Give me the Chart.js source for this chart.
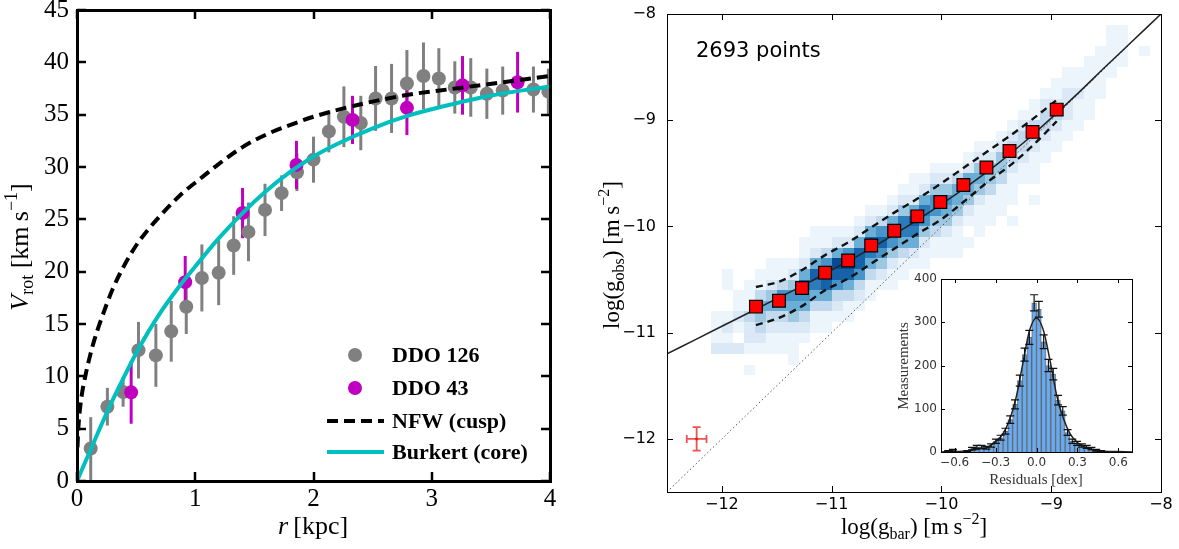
<!DOCTYPE html>
<html><head><meta charset="utf-8">
<script src="https://cdn.jsdelivr.net/npm/chart.js@4.4.0/dist/chart.umd.min.js"></script>
<style>
html,body{margin:0;padding:0;background:#fff;}
#wrap{position:relative;width:1179px;height:549px;overflow:hidden;background:#fff;}
canvas{position:absolute;}
</style></head><body>
<div id="wrap">
<canvas id="left" width="590" height="549" style="left:0;top:0"></canvas>
<canvas id="right" width="589" height="549" style="left:590px;top:0"></canvas>
<canvas id="inset" width="265" height="230" style="left:880px;top:265px"></canvas>
</div>
<script>
// ---------------- LEFT PANEL DATA ----------------
const ddo126R = [0.116,0.257,0.39,0.52,0.667,0.797,0.924,1.056,1.198,1.325,1.45,1.59,1.73,1.86,2.0,2.13,2.257,2.40,2.525,2.66,2.79,2.93,3.06,3.195,3.33,3.466,3.60,3.86,3.986];
const ddo126V = [3.1,7.1,8.5,12.5,12.0,14.3,16.65,19.4,19.9,22.5,23.8,25.9,27.5,29.5,30.7,33.4,34.8,34.2,36.55,36.55,37.98,38.7,38.45,37.6,37.6,37.0,37.3,37.4,37.2];
const ddo126Err = [3.0,1.8,1.4,2.7,3.0,2.9,2.6,3.2,3.1,2.8,2.8,2.5,1.7,1.8,2.2,2.0,2.9,2.6,3.1,3.3,3.2,3.2,2.9,2.5,2.8,2.4,2.3,2.2,2.2];
const ddo43R = [0.458,0.915,1.40,1.856,2.33,2.79,3.26,3.726];
const ddo43V = [8.47,19.0,25.6,30.2,34.5,35.65,37.8,38.1];
const ddo43Err = [3.0,2.5,2.4,2.3,2.3,2.6,2.8,2.9];
const nfwR = [0.004,0.01,0.02,0.04,0.07,0.1,0.15,0.2,0.3,0.4,0.5,0.6,0.7,0.8,0.9,1.0,1.2,1.4,1.6,1.8,2.0,2.4,2.8,3.2,3.6,4.0];
const nfwV = [3.2,4.8,6.3,8.2,10.0,11.5,13.6,15.3,18.3,20.6,22.5,24.0,25.3,26.5,27.6,28.5,30.3,31.9,33.1,34.0,34.8,36.0,36.9,37.5,38.1,38.7];
const burkR = [0,0.1,0.2,0.3,0.4,0.5,0.6,0.7,0.8,0.9,1.0,1.2,1.4,1.6,1.8,2.0,2.2,2.5,2.8,3.1,3.4,3.7,4.0];
const burkV = [0,2.6,5.2,7.7,10.0,12.2,14.2,16.0,17.6,19.1,20.5,23.2,25.6,27.7,29.5,31.0,32.2,33.7,34.9,35.8,36.6,37.2,37.7];
const leftXTicks = [0,1,2,3,4];
const leftYTicks = [0,5,10,15,20,25,30,35,40,45];
const legendLabels = ['DDO 126','DDO 43','NFW (cusp)','Burkert (core)'];

// ---------------- RIGHT PANEL DATA ----------------
const binGbar = [-11.69,-11.48,-11.27,-11.06,-10.85,-10.64,-10.43,-10.22,-10.01,-9.80,-9.59,-9.38,-9.17,-8.95];
const binGobs = [-10.755,-10.70,-10.58,-10.435,-10.32,-10.18,-10.04,-9.905,-9.77,-9.61,-9.445,-9.29,-9.11,-8.90];
const bandUpper = [-10.57,-10.52,-10.41,-10.27,-10.15,-10.01,-9.87,-9.74,-9.60,-9.45,-9.30,-9.15,-8.99,-8.81];
const bandLower = [-10.93,-10.86,-10.75,-10.60,-10.49,-10.35,-10.21,-10.07,-9.94,-9.77,-9.59,-9.43,-9.24,-9.01];
const rarX = [-12.5,-12.25,-12.0,-11.75,-11.5,-11.25,-11.0,-10.75,-10.5,-10.25,-10.0,-9.75,-9.5,-9.25,-9.0,-8.75,-8.5,-8.25,-8.0];
const rarY = [-11.20,-11.07,-10.94,-10.81,-10.68,-10.55,-10.41,-10.27,-10.12,-9.96,-9.79,-9.61,-9.42,-9.21,-8.98,-8.74,-8.49,-8.245,-8.0];
const unityX = [-12.5,-8.0];
const unityY = [-12.5,-8.0];
const errCrossX = [-12.23];
const errCrossY = [-12.0];
const errCrossDX = [0.09];
const errCrossDY = [0.11];
const rightTicks = [-12,-11,-10,-9,-8];
const pointsLabel = '2693 points';
// 2D histogram: column left edges, bottom row edge, levels (0-9) bottom->top
const heatX = [-12.1,-12.0,-11.9,-11.8,-11.7,-11.6,-11.5,-11.4,-11.3,-11.2,-11.1,-11.0,-10.9,-10.8,-10.7,-10.6,-10.5,-10.4,-10.3,-10.2,-10.1,-10.0,-9.9,-9.8,-9.7,-9.6,-9.5,-9.4,-9.3,-9.2,-9.1,-9.0,-8.9,-8.8,-8.7,-8.6,-8.5,-8.4,-8.2];
const heatY0 = [-11.2,-11.2,-11.2,-11.4,-11.2,-11.2,-11.2,-11.3,-11.1,-11.0,-11.0,-10.9,-10.9,-10.8,-10.7,-10.6,-10.6,-10.5,-10.4,-10.4,-10.3,-10.3,-10.3,-10.2,-10.1,-10.0,-9.9,-10.0,-9.6,-9.8,-9.4,-9.3,-9.2,-9.1,-9.0,-8.8,-8.6,-8.5,-8.4];
const heatLevels = [
 [2,1,1,1],
 [2,1,2,1,0,0,1,1],
 [2,0,1,2,1,1],
 [1,0,1,2,2,3,1,1,1],
 [1,2,3,4,5,3,1,1],
 [1,1,2,3,5,4,2,1,1],
 [1,1,2,3,5,6,3,1,1],
 [1,1,1,2,4,5,6,4,2,1],
 [1,2,3,5,6,8,5,2,1,1],
 [1,1,3,5,7,8,5,2,1,1],
 [1,1,3,5,8,9,6,3,1,1],
 [1,2,3,6,8,9,5,2,1],
 [1,1,3,5,8,9,6,2,1],
 [1,2,3,6,8,8,5,2,1],
 [1,1,3,5,7,8,5,2,1],
 [1,2,4,6,8,6,3,1],
 [1,1,2,4,6,8,5,2,1],
 [1,1,3,5,7,7,4,2,1],
 [1,2,5,7,8,5,2,1,1],
 [1,1,2,4,6,7,5,2,1],
 [1,1,3,4,6,6,4,2,1],
 [1,1,2,4,5,6,4,2,1],
 [1,1,1,2,4,5,5,3,1],
 [1,0,1,2,4,5,5,2,1],
 [1,1,1,2,4,5,4,2,1],
 [1,1,1,3,4,4,2,1],
 [1,1,1,3,4,4,2,1],
 [1,0,1,1,1,2,3,3,2,1],
 [1,1,2,3,3,2,1],
 [1,0,1,1,1,2,3,3,1,1],
 [1,1,2,3,3,2,1],
 [1,1,2,3,2,1,1],
 [1,1,2,2,2,1,1],
 [1,1,1,2,1,1],
 [1,1,1,1,1,1],
 [1,1,1,1,1],
 [1,1,1,1,1],
 [1,1,1,1],
 [1]
];

// ---------------- INSET DATA ----------------
const histCenters = [-0.6825,-0.6475,-0.6125,-0.5775,-0.5425,-0.5075,-0.4725,-0.4375,-0.4025,-0.3675,-0.3325,-0.2975,-0.2625,-0.2275,-0.1925,-0.1575,-0.1225,-0.0875,-0.0525,-0.0175,0.0175,0.0525,0.0875,0.1225,0.1575,0.1925,0.2275,0.2625,0.2975,0.3325,0.3675,0.4025,0.4375,0.4725,0.5075,0.5425,0.5775,0.6125,0.6475,0.6825];
const histCounts = [0,2,4,0,0,2,8,12,12,10,15,25,33,48,75,110,165,225,265,345,330,255,200,180,120,95,45,25,20,15,12,8,4,2,0,0,0,0,0,0];
const histErr = [0,1.4,2,0,0,1.4,2.8,3.5,3.5,3.2,3.9,5,5.7,6.9,8.7,10.5,12.8,15,16.3,18.6,18.2,16,14.1,13.4,11,9.7,6.7,5,4.5,3.9,3.5,2.8,2,1.4,0,0,0,0,0,0];
const fitX = [-0.7,-0.6,-0.5,-0.45,-0.4,-0.35,-0.3,-0.25,-0.2,-0.15,-0.1,-0.05,0,0.05,0.1,0.15,0.2,0.25,0.3,0.35,0.4,0.45,0.5,0.6,0.7];
const fitY = [0,1,3,5,8,12,25,40,72,125,205,282,310,282,210,128,75,40,22,12,6,3,2,1,0];
const insetXTicks = [-0.6,-0.3,0,0.3,0.6];
const insetXLabels = ['\u22120.6','\u22120.3','0.0','0.3','0.6'];
const insetYTicks = [0,100,200,300,400];

// ---------------- HELPERS ----------------
const toXY = (X,Y) => X.map((v,i)=>({x:v,y:Y[i]}));
const SERIF = '"Liberation Serif", "Times New Roman", serif';
const SANS = '"DejaVu Sans", sans-serif';
const BLUES = [[247,251,255],[222,235,247],[198,219,239],[158,202,225],[107,174,214],[66,146,198],[33,113,181],[8,81,156],[8,48,107]];
const LEVEL_T = [0,0.05,0.14,0.26,0.38,0.5,0.61,0.71,0.81,0.9];
function blues(t){
  const s=Math.max(0,Math.min(1,t))*8; const i=Math.min(7,Math.floor(s)); const f=s-i;
  const a=BLUES[i], b=BLUES[i+1];
  return 'rgb('+[0,1,2].map(k=>Math.round(a[k]+(b[k]-a[k])*f)).join(',')+')';
}
function richText(ctx, parts, x, y, angle, color){
  ctx.save(); ctx.translate(x,y); if(angle) ctx.rotate(angle);
  let total=0;
  parts.forEach(p=>{ctx.font=p.font; p.w=ctx.measureText(p.t).width; total+=p.w;});
  let cx=-total/2; ctx.textBaseline='alphabetic'; ctx.textAlign='left'; ctx.fillStyle=color||'#000';
  parts.forEach(p=>{ctx.font=p.font; ctx.fillText(p.t,cx,p.dy||0); cx+=p.w;});
  ctx.restore();
}
function fixAxis(size, horizontal){
  return function(s){ if(horizontal) s.height=size; else s.width=size; s.paddingTop=0; s.paddingBottom=0; s.paddingLeft=0; s.paddingRight=0; };
}
function setTicks(arr){ return function(s){ s.ticks = arr.map(v=>({value:v})); }; }
function framePlugin(id, cfg){
  return { id, afterDatasetsDraw(chart){
    const {ctx, chartArea:a, scales:{x,y}} = chart;
    ctx.save(); ctx.strokeStyle=cfg.color; ctx.lineWidth=cfg.tickWidth; ctx.lineCap='butt';
    const off = cfg.tickWidth%2===1?0.5:0;
    cfg.xTicks.forEach(v=>{ const p=Math.round(x.getPixelForValue(v))+off;
      ctx.beginPath(); ctx.moveTo(p,a.bottom); ctx.lineTo(p,a.bottom-cfg.len); ctx.moveTo(p,a.top); ctx.lineTo(p,a.top+cfg.len); ctx.stroke(); });
    cfg.yTicks.forEach(v=>{ const p=Math.round(y.getPixelForValue(v))+off;
      ctx.beginPath(); ctx.moveTo(a.left,p); ctx.lineTo(a.left+cfg.len,p); ctx.moveTo(a.right,p); ctx.lineTo(a.right-cfg.len,p); ctx.stroke(); });
    ctx.lineWidth=cfg.frameWidth;
    const fo = cfg.frameWidth%2===1?0.5:0;
    ctx.strokeRect(Math.round(a.left)+fo, Math.round(a.top)+fo, Math.round(a.width), Math.round(a.height));
    ctx.restore();
  }};
}
const common = { responsive:false, maintainAspectRatio:false, animation:false, events:[], plugins:{legend:{display:false}, tooltip:{enabled:false}} };

// ---------------- LEFT CHART ----------------
const leftErr = { id:'leftErr', beforeDatasetsDraw(chart){
  const {ctx, chartArea:a, scales:{x,y}} = chart;
  ctx.save(); ctx.beginPath(); ctx.rect(a.left,a.top,a.width,a.height); ctx.clip();
  ctx.lineWidth=3;
  const draw=(R,V,E,col)=>{ ctx.strokeStyle=col; R.forEach((r,i)=>{ const px=x.getPixelForValue(r);
    ctx.beginPath(); ctx.moveTo(px,y.getPixelForValue(V[i]-E[i])); ctx.lineTo(px,y.getPixelForValue(V[i]+E[i])); ctx.stroke(); }); };
  draw(ddo126R,ddo126V,ddo126Err,'#808080');
  draw(ddo43R,ddo43V,ddo43Err,'#bf00bf');
  ctx.restore();
}};
const leftDeco = { id:'leftDeco', afterDraw(chart){
  const ctx=chart.ctx;
  ctx.save();
  const mx=355, tx=392, rows=[355,388,421,452];
  ctx.fillStyle='#808080'; ctx.beginPath(); ctx.arc(mx,rows[0],7,0,Math.PI*2); ctx.fill();
  ctx.fillStyle='#bf00bf'; ctx.beginPath(); ctx.arc(mx,rows[1],7,0,Math.PI*2); ctx.fill();
  ctx.strokeStyle='#000'; ctx.lineWidth=4; ctx.setLineDash([11,6]); ctx.beginPath(); ctx.moveTo(327,rows[2]); ctx.lineTo(384,rows[2]); ctx.stroke();
  ctx.setLineDash([]); ctx.strokeStyle='#00bfbf'; ctx.beginPath(); ctx.moveTo(327,rows[3]); ctx.lineTo(384,rows[3]); ctx.stroke();
  ctx.fillStyle='#000'; ctx.font='bold 22px '+SERIF; ctx.textBaseline='middle'; ctx.textAlign='left';
  legendLabels.forEach((t,i)=>ctx.fillText(t,tx,rows[i]+1));
  ctx.restore();
  richText(ctx,[{t:'V',font:'italic 26px '+SERIF},{t:'rot',font:'18px '+SERIF,dy:5},{t:' [km\u2009s',font:'26px '+SERIF},{t:'\u22121',font:'18px '+SERIF,dy:-11},{t:']',font:'26px '+SERIF}],28,247,-Math.PI/2);
  richText(ctx,[{t:'r',font:'italic 26px '+SERIF},{t:'\u2009[kpc]',font:'26px '+SERIF}],313,534,0);
}};
new Chart(document.getElementById('left'), {
  type:'scatter',
  data:{datasets:[
    {data:toXY(burkR,burkV), showLine:true, borderColor:'#00bfbf', borderWidth:4, pointRadius:0, cubicInterpolationMode:'monotone', clip:0},
    {data:toXY(nfwR,nfwV), showLine:true, borderColor:'#000', borderWidth:4, borderDash:[11,6], pointRadius:0, cubicInterpolationMode:'monotone', clip:0},
    {data:toXY(ddo43R,ddo43V), backgroundColor:'#bf00bf', pointRadius:7, borderWidth:0, clip:0},
    {data:toXY(ddo126R,ddo126V), backgroundColor:'#808080', pointRadius:7, borderWidth:0, clip:0}
  ]},
  options:Object.assign({}, common, {
    layout:{padding:{left:0,top:10,right:40,bottom:0}},
    scales:{
      x:{type:'linear',min:0,max:4,grid:{display:false,drawTicks:false},border:{display:false},
         afterBuildTicks:setTicks(leftXTicks), afterFit:fixAxis(68,true),
         ticks:{autoSkip:false,maxRotation:0,padding:3,color:'#000',font:{family:SERIF,size:25},callback:v=>String(v)}},
      y:{type:'linear',min:0,max:45,grid:{display:false,drawTicks:false},border:{display:false},
         afterBuildTicks:setTicks(leftYTicks), afterFit:fixAxis(77,false),
         ticks:{autoSkip:false,padding:8,color:'#000',font:{family:SERIF,size:25},callback:v=>String(v)}}
    }
  }),
  plugins:[leftErr, framePlugin('leftFrame',{xTicks:leftXTicks,yTicks:leftYTicks,len:9,tickWidth:2.5,frameWidth:3,color:'#000'}), leftDeco]
});

// ---------------- RIGHT CHART ----------------
const HEAT_BIN = 0.1;
const heatPlugin = { id:'heat', beforeDatasetsDraw(chart){
  const {ctx, chartArea:a, scales:{x,y}} = chart;
  ctx.save(); ctx.beginPath(); ctx.rect(a.left,a.top,a.width,a.height); ctx.clip();
  heatX.forEach((x0,i)=>{
    heatLevels[i].forEach((lv,j)=>{
      if(!lv) return;
      const y0 = heatY0[i] + j*HEAT_BIN;
      const px0=Math.round(x.getPixelForValue(x0)), px1=Math.round(x.getPixelForValue(x0+HEAT_BIN));
      const py0=Math.round(y.getPixelForValue(y0)), py1=Math.round(y.getPixelForValue(y0+HEAT_BIN));
      ctx.fillStyle=blues(LEVEL_T[lv]);
      ctx.fillRect(px0,py1,px1-px0,py0-py1);
    });
  });
  ctx.restore();
}};
const rightDeco = { id:'rightDeco', afterDatasetsDraw(chart){
  const {ctx, scales:{x,y}} = chart;
  ctx.save();
  ctx.strokeStyle='rgba(240,50,50,0.85)'; ctx.lineWidth=1.8;
  errCrossX.forEach((cx,i)=>{
    const px=x.getPixelForValue(cx), py=y.getPixelForValue(errCrossY[i]);
    const xl=x.getPixelForValue(cx-errCrossDX[i]), xr=x.getPixelForValue(cx+errCrossDX[i]);
    const yt=y.getPixelForValue(errCrossY[i]+errCrossDY[i]), yb=y.getPixelForValue(errCrossY[i]-errCrossDY[i]);
    ctx.beginPath(); ctx.moveTo(xl,py); ctx.lineTo(xr,py); ctx.moveTo(px,yt); ctx.lineTo(px,yb);
    ctx.moveTo(xl,py-4); ctx.lineTo(xl,py+4); ctx.moveTo(xr,py-4); ctx.lineTo(xr,py+4);
    ctx.moveTo(px-4,yt); ctx.lineTo(px+4,yt); ctx.moveTo(px-4,yb); ctx.lineTo(px+4,yb); ctx.stroke();
    ctx.fillStyle='rgba(200,30,30,0.9)'; ctx.beginPath(); ctx.arc(px,py,1.5,0,Math.PI*2); ctx.fill();
  });
  ctx.restore();
}, afterDraw(chart){
  const ctx=chart.ctx;
  ctx.save(); ctx.fillStyle='#000'; ctx.font='21px '+SANS; ctx.textBaseline='alphabetic'; ctx.textAlign='left';
  ctx.fillText(pointsLabel,106,57); ctx.restore();
  richText(ctx,[{t:'log(g',font:'23px '+SERIF},{t:'obs',font:'16px '+SERIF,dy:5},{t:')',font:'23px '+SERIF},{t:' [m\u2009s',font:'23px '+SERIF},{t:'\u22122',font:'16px '+SERIF,dy:-10},{t:']',font:'23px '+SERIF}],29,255,-Math.PI/2);
  richText(ctx,[{t:'log(g',font:'23px '+SERIF},{t:'bar',font:'16px '+SERIF,dy:5},{t:')',font:'23px '+SERIF},{t:' [m\u2009s',font:'23px '+SERIF},{t:'\u22122',font:'16px '+SERIF,dy:-10},{t:']',font:'23px '+SERIF}],324,534,0);
}};
const minusFmt = v => (v<0?'\u2212':'')+Math.abs(v);
new Chart(document.getElementById('right'), {
  type:'scatter',
  data:{datasets:[
    {data:toXY(binGbar,binGobs), pointStyle:'rect', pointRadius:9, backgroundColor:'#ff0000', borderColor:'#000', borderWidth:1.2},
    {data:toXY(binGbar,bandUpper), showLine:true, borderColor:'#111', borderWidth:2.4, borderDash:[7,5], pointRadius:0, cubicInterpolationMode:'monotone'},
    {data:toXY(binGbar,bandLower), showLine:true, borderColor:'#111', borderWidth:2.4, borderDash:[7,5], pointRadius:0, cubicInterpolationMode:'monotone'},
    {data:toXY(rarX,rarY), showLine:true, borderColor:'#222', borderWidth:1.5, pointRadius:0, cubicInterpolationMode:'monotone', clip:0},
    {data:toXY(unityX,unityY), showLine:true, borderColor:'#555', borderWidth:1, borderDash:[1.5,2.5], pointRadius:0, clip:0}
  ]},
  options:Object.assign({}, common, {
    layout:{padding:{left:0,top:14,right:18,bottom:0}},
    scales:{
      x:{type:'linear',min:-12.5,max:-8,grid:{display:false,drawTicks:false},border:{display:false},
         afterBuildTicks:setTicks(rightTicks), afterFit:fixAxis(57,true),
         ticks:{autoSkip:false,maxRotation:0,padding:3,color:'#000',font:{family:SANS,size:16},callback:minusFmt}},
      y:{type:'linear',min:-12.5,max:-8,grid:{display:false,drawTicks:false},border:{display:false},
         afterBuildTicks:setTicks(rightTicks), afterFit:fixAxis(77,false),
         ticks:{autoSkip:false,padding:11,color:'#000',font:{family:SANS,size:16},callback:minusFmt}}
    }
  }),
  plugins:[heatPlugin, rightDeco, framePlugin('rightFrame',{xTicks:rightTicks,yTicks:rightTicks,len:6,tickWidth:1,frameWidth:1,color:'#000'})]
});

// ---------------- INSET CHART ----------------
const insetBg = { id:'insetBg', beforeDraw(chart){
  const {ctx, chartArea:a} = chart; ctx.save(); ctx.fillStyle='#fff'; ctx.fillRect(a.left,a.top,a.width,a.height); ctx.restore();
}};
const insetErr = { id:'insetErr', afterDatasetsDraw(chart){
  const {ctx, scales:{x,y}} = chart;
  ctx.save(); ctx.strokeStyle='#111'; ctx.lineWidth=1.2;
  histCenters.forEach((c,i)=>{
    if(!histCounts[i]) return;
    const px=x.getPixelForValue(c), yt=y.getPixelForValue(histCounts[i]+histErr[i]), yb=y.getPixelForValue(Math.max(0,histCounts[i]-histErr[i]));
    ctx.beginPath(); ctx.moveTo(px,yt); ctx.lineTo(px,yb);
    ctx.moveTo(px-4,yt); ctx.lineTo(px+4,yt); ctx.moveTo(px-4,yb); ctx.lineTo(px+4,yb); ctx.stroke();
  });
  ctx.restore();
}, afterDraw(chart){
  const ctx=chart.ctx;
  richText(ctx,[{t:'Measurements',font:'15px '+SERIF}],28,101,-Math.PI/2,'#333');
  richText(ctx,[{t:'Residuals [dex]',font:'15px '+SERIF}],156,219,0,'#333');
}};
new Chart(document.getElementById('inset'), {
  type:'bar',
  data:{datasets:[
    {type:'line', data:toXY(fitX,fitY), borderColor:'#222', borderWidth:1.5, pointRadius:0, cubicInterpolationMode:'monotone'},
    {type:'bar', data:toXY(histCenters,histCounts), backgroundColor:'rgba(98,166,238,0.95)', borderColor:'rgba(50,60,70,0.7)', borderWidth:1, barPercentage:1, categoryPercentage:1, grouped:false}
  ]},
  options:Object.assign({}, common, {
    layout:{padding:{left:0,top:14,right:13,bottom:0}},
    scales:{
      x:{type:'linear',min:-0.7,max:0.7,offset:false,grid:{display:false,drawTicks:false},border:{display:false},
         afterBuildTicks:setTicks(insetXTicks), afterFit:fixAxis(43,true),
         ticks:{autoSkip:false,maxRotation:0,padding:4,color:'#333',font:{family:SANS,size:12},callback:(v,i)=>insetXLabels[i]}},
      y:{type:'linear',min:0,max:400,grid:{display:false,drawTicks:false},border:{display:false},
         afterBuildTicks:setTicks(insetYTicks), afterFit:fixAxis(61,false),
         ticks:{autoSkip:false,padding:4,color:'#333',font:{family:SANS,size:12},callback:v=>String(v)}}
    }
  }),
  plugins:[insetBg, insetErr, framePlugin('insetFrame',{xTicks:insetXTicks,yTicks:insetYTicks,len:4,tickWidth:1,frameWidth:1,color:'#000'})]
});
</script>
</body></html>
